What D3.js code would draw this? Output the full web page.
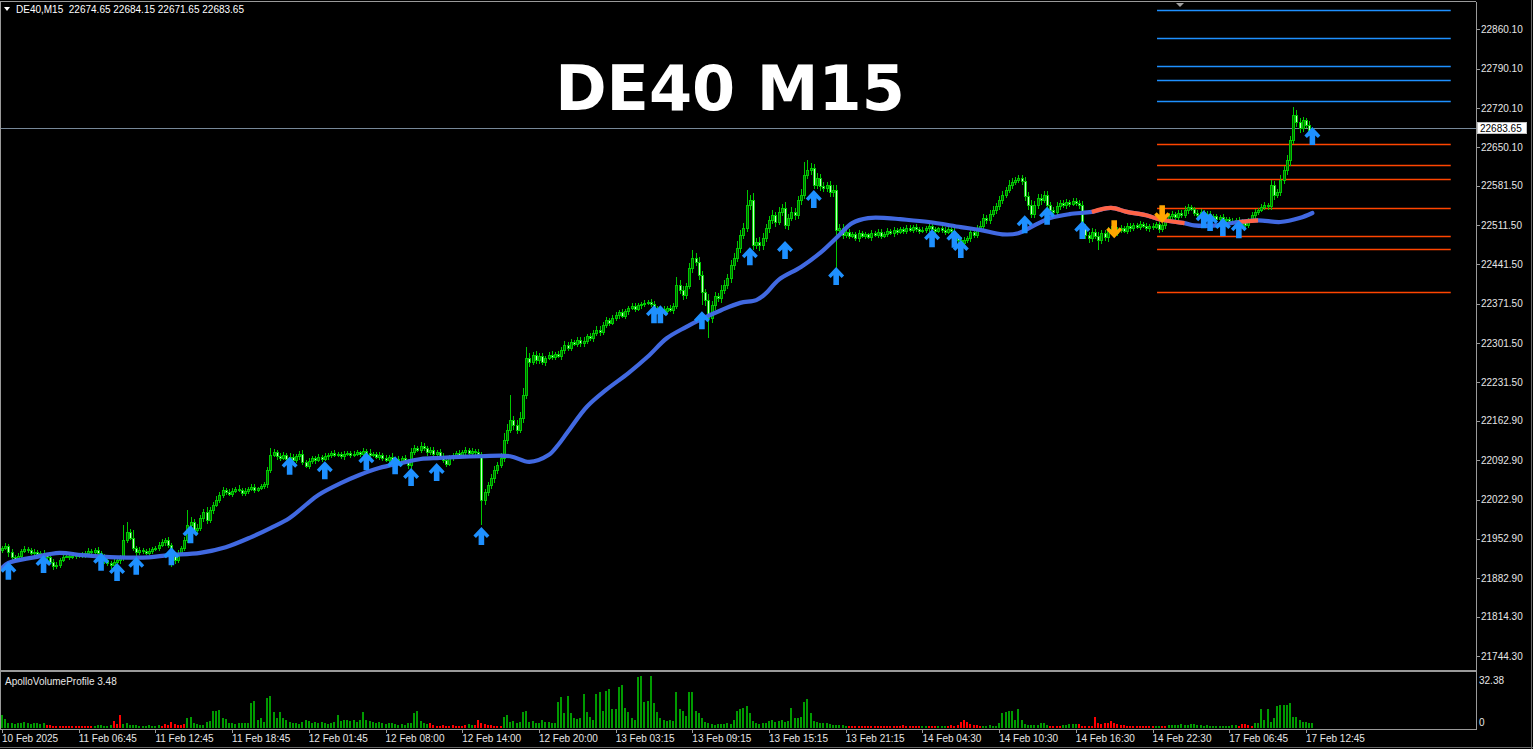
<!DOCTYPE html>
<html><head><meta charset="utf-8">
<script src="https://cdn.jsdelivr.net/npm/d3@7"></script>
<style>html,body{margin:0;padding:0;background:#000;overflow:hidden}</style>
</head><body><svg id="c" width="1533" height="749"></svg>
<script>
// ---------------- DATA ----------------
const symbol = "DE40,M15";
const titleText = "DE40 M15";
const indicatorName = "ApolloVolumeProfile 3.48";
const firstOpen = 21933;
const closes = [
21937,21940,21929,21921,21917,21922,21931,21935,21933,21928,21929,21926,21928,21924,21921,21912,21905,21906,21915,21921,21922,21921,21922,21924,
21922,21924,21928,21931,21929,21933,21928,21922,21915,21910,21906,21912,21915,21919,21951,21965,21954,21937,21929,21933,21931,21928,21931,21935,
21937,21942,21947,21951,21942,21924,21915,21928,21937,21951,21978,21983,21969,21972,21990,22001,21986,22004,22013,22022,22031,22040,22036,22033,
22038,22042,22040,22034,22038,22042,22045,22040,22043,22047,22050,22075,22102,22107,22100,22097,22102,22095,22099,22093,22100,22104,22090,22083,
22091,22097,22093,22099,22095,22100,22102,22106,22102,22104,22100,22104,22106,22102,22104,22107,22104,22109,22106,22102,22104,22099,22102,22097,
22093,22099,22090,22095,22091,22097,22090,22084,22107,22114,22111,22118,22114,22107,22111,22104,22107,22100,22093,22086,22097,22102,22106,22102,
22107,22111,22106,22109,22107,22104,22022,22036,22049,22061,22075,22084,22097,22129,22147,22164,22155,22147,22168,22209,22275,22268,22280,22271,
22278,22268,22275,22280,22277,22282,22278,22289,22298,22293,22303,22300,22307,22301,22305,22314,22310,22319,22325,22321,22334,22342,22337,22346,
22351,22357,22350,22358,22364,22367,22362,22369,22371,22373,22374,22371,22364,22360,22362,22358,22364,22360,22367,22405,22396,22387,22403,22435,
22453,22446,22423,22392,22378,22346,22369,22385,22382,22396,22405,22417,22440,22453,22471,22494,22506,22547,22556,22476,22481,22476,22488,22506,
22520,22529,22517,22535,22542,22511,22524,22535,22529,22556,22565,22600,22609,22613,22583,22595,22581,22577,22583,22570,22574,22503,22506,22494,
22499,22492,22495,22488,22497,22492,22495,22490,22497,22494,22499,22492,22495,22501,22497,22503,22499,22504,22501,22506,22503,22508,22504,22501,
22503,22506,22510,22504,22501,22506,22503,22499,22504,22501,22492,22485,22480,22485,22488,22499,22494,22506,22510,22524,22520,22531,22538,22545,
22556,22565,22574,22583,22588,22592,22595,22590,22563,22547,22531,22547,22560,22556,22565,22547,22538,22535,22545,22551,22547,22552,22549,22554,
22551,22547,22506,22494,22488,22499,22492,22485,22497,22490,22501,22504,22497,22503,22506,22501,22510,22506,22511,22508,22513,22510,22506,22510,
22508,22513,22504,22511,22520,22527,22531,22526,22533,22529,22538,22543,22540,22533,22529,22535,22527,22531,22524,22527,22522,22526,22520,22522,
22519,22517,22520,22513,22517,22511,22519,22529,22535,22538,22543,22547,22545,22583,22565,22570,22592,22609,22627,22663,22707,22695,22684,22698,
22690,22674.65,22683.65];
const wickHi = [
4,6,3,5,4,6,3,5,4,3,6,4,3,5,4,3,5,6,4,3,5,4,3,4,
3,5,4,6,3,4,5,3,4,5,3,6,4,5,27,18,6,15,4,5,3,4,5,3,
4,5,6,3,5,4,6,5,4,6,26,8,5,7,6,5,9,6,5,7,6,5,4,6,
5,4,6,3,5,4,6,5,3,4,5,6,12,5,4,6,5,4,6,5,4,5,7,4,
5,4,3,5,4,6,3,4,5,3,4,5,4,3,5,4,3,5,4,6,3,4,5,4,
5,4,6,3,5,4,6,5,8,6,5,7,6,4,5,6,4,5,6,4,5,4,3,5,
4,5,3,6,4,5,4,6,5,7,8,6,9,12,10,45,8,9,10,12,19,8,6,7,
5,6,4,5,7,4,6,5,7,6,5,4,6,5,7,4,6,5,7,6,5,6,4,6,
5,4,6,5,4,6,5,4,3,5,4,6,5,4,6,5,4,5,6,14,8,7,6,9,
14,8,9,7,6,10,8,7,6,9,8,7,10,9,12,8,10,27,9,12,8,10,9,8,
7,9,6,8,7,10,8,9,7,8,10,24,18,9,8,10,7,8,6,7,8,9,8,7,
5,6,4,5,6,4,5,3,6,4,5,6,4,5,3,6,4,5,4,6,5,4,5,4,
5,4,6,5,4,3,5,6,4,5,6,4,5,6,4,7,5,6,8,7,6,8,7,6,
8,7,6,9,7,5,5,6,8,7,9,8,7,6,8,7,6,5,7,6,5,6,4,5,
5,6,7,8,6,7,6,8,6,5,7,6,5,6,5,4,6,5,4,5,6,4,5,4,
5,4,6,5,7,6,5,4,6,5,7,6,5,4,5,6,4,5,6,4,5,4,5,4,
4,5,4,6,5,4,5,6,5,4,6,5,4,8,7,6,9,8,10,8,15,9,7,6,
5,7,0.5];
const wickLo = [
5,4,8,6,5,4,6,3,5,4,6,5,4,6,5,4,8,6,5,4,3,5,4,5,
4,3,5,4,6,3,5,4,6,5,7,5,4,6,5,6,4,5,6,4,5,3,4,5,
4,5,3,6,5,21,6,5,4,6,5,7,8,6,5,7,6,5,6,4,5,6,5,4,
5,4,3,5,4,6,4,5,3,4,5,6,5,4,6,5,4,6,5,4,5,6,5,4,
5,4,6,3,5,4,6,5,3,4,5,6,4,5,3,4,6,5,4,5,3,4,5,6,
4,5,3,6,4,5,4,6,9,5,4,6,5,7,4,5,6,4,5,6,4,5,6,4,
5,4,6,5,4,5,44,9,6,7,8,6,5,7,8,6,9,7,6,8,7,9,6,7,
6,5,7,4,6,5,4,6,7,5,6,4,5,7,6,5,4,6,5,7,6,5,6,4,
5,6,4,5,6,4,5,4,6,5,4,5,6,4,5,6,5,4,6,5,8,9,7,6,
8,7,9,23,10,36,9,8,7,9,8,7,9,8,7,9,8,7,8,9,7,10,8,7,
8,7,9,6,8,7,8,6,9,7,8,7,6,9,8,7,8,6,7,9,8,68,9,7,
5,6,4,5,6,4,5,3,6,4,5,6,4,5,4,6,5,4,5,6,4,5,4,5,
4,5,6,4,5,3,5,6,4,5,6,8,7,6,5,7,6,5,6,5,7,6,5,6,
6,7,5,6,7,5,6,7,8,9,7,6,7,8,6,7,6,5,7,6,5,6,5,4,
5,6,7,8,9,7,6,18,7,6,8,7,6,5,6,4,5,6,5,4,5,4,5,6,
5,4,6,5,6,5,4,6,5,4,5,6,4,5,6,5,4,5,6,4,5,6,4,5,
5,4,6,5,4,6,5,4,6,5,4,5,6,7,8,6,7,8,9,10,8,9,8,7,
6,5,3];
const volumes = [
7.6,5.5,2.7,2.7,2.5,3.0,2.8,3.7,3.0,2.5,3.2,2.7,2.6,2.9,1.8,1.5,1.3,1.2,1.0,1.2,1.1,1.3,1.2,1.1,
1.2,1.3,1.1,1.2,1.4,1.0,1.5,1.8,1.2,1.4,1.6,4.3,2.5,7.7,2.3,3.0,2.0,1.5,1.8,1.2,1.4,1.2,1.5,1.3,
1.4,1.6,1.3,2.2,1.8,3.7,2.5,1.9,2.0,2.4,5.9,6.7,2.8,2.2,1.6,2.0,3.7,4.0,10.0,10.0,10.8,5.9,5.5,3.0,
2.7,2.6,2.8,3.0,2.7,3.1,14.5,15.9,4.5,5.9,3.5,17.8,18.8,9.6,6.0,9.6,5.9,4.6,3.7,3.0,2.7,2.5,3.5,4.6,
4.0,3.0,3.7,2.7,3.7,3.0,2.5,3.2,3.8,7.6,4.0,4.6,4.6,4.0,4.6,3.7,5.0,9.6,5.0,4.0,3.7,3.0,3.5,2.7,
2.5,3.0,2.7,2.2,2.0,2.5,2.0,2.7,3.0,9.0,10.3,4.2,3.0,2.2,3.0,1.5,1.2,1.3,1.5,1.3,1.2,1.6,1.4,1.2,
1.0,1.5,2.2,1.6,2.0,4.6,3.2,2.2,1.8,1.5,1.2,1.4,1.0,6.7,7.6,3.7,4.0,3.0,3.7,9.6,10.3,3.7,4.0,3.2,
3.0,4.6,3.7,3.7,3.2,2.7,15.5,18.5,8.8,18.8,8.8,5.9,5.5,6.0,19.8,9.6,6.7,5.0,20.3,21.2,10.0,22.0,23.0,11.0,
11.4,24.3,25.5,11.8,9.6,5.9,5.0,29.8,30.6,15.5,16.0,30.6,14.5,9.6,6.0,5.0,4.2,4.6,4.0,21.2,11.0,10.0,7.0,21.2,
21.2,9.9,9.0,5.9,3.5,3.0,2.5,2.0,2.5,2.5,2.5,2.7,2.5,4.6,10.0,11.0,11.8,12.8,8.8,4.0,3.0,2.5,2.7,3.0,
4.0,4.6,3.7,4.0,4.6,3.7,4.0,11.8,5.9,6.0,6.3,15.2,17.0,8.8,4.0,3.5,3.0,3.0,2.7,2.2,2.0,2.0,1.8,1.5,
1.3,1.1,1.0,1.2,1.1,1.0,1.2,1.1,1.3,1.2,1.0,1.1,1.2,1.4,1.3,1.2,1.4,1.3,1.5,1.4,1.3,1.2,1.4,1.3,
1.2,1.0,1.1,1.3,1.2,1.0,1.1,1.2,1.3,1.5,1.4,1.8,3.7,5.0,3.7,2.5,2.0,1.5,1.3,1.2,1.3,1.5,1.4,1.2,
2.7,8.8,9.6,10.3,10.3,5.0,11.0,4.6,2.5,1.5,1.8,2.0,2.0,2.7,3.1,2.0,1.2,1.0,1.0,1.2,1.5,2.0,2.5,2.5,
2.2,2.5,1.3,1.2,1.4,1.0,6.3,3.0,2.5,2.7,2.7,4.0,2.7,2.5,2.0,1.5,1.2,1.2,1.0,1.3,1.2,1.0,1.1,1.0,
1.0,1.2,1.0,1.2,1.4,1.5,1.8,1.7,2.0,2.1,2.0,1.8,2.2,2.5,1.8,1.6,1.4,1.5,1.2,1.3,1.1,1.3,1.2,1.4,
1.3,1.5,1.6,1.2,2.5,2.3,1.5,1.2,3.0,3.1,11.0,5.0,11.0,3.7,5.9,12.8,13.7,13.7,13.7,14.5,6.7,6.3,4.6,3.7,
3.7,3.0,3.0];
const volumeMax = 32.38;
const volumeRedRanges = [[14,28],[35,37],[50,57],[134,145],[148,156],[265,287],[290,292],[296,306],[328,331],[337,360],[363,364],[387,391]];
const maBars = [0,2,10,18,25,36,46,52,62,70,78,84,90,96,99,106,112,118,125,131,137,143,150,159,165,171,174,177,183,189,196,202,208,214,218,225,231,236,239,243,250,256,262,266,271,277,281,290,300,306,313,318,323,328,334,341,347,352,358,362,370,373,380,387,393,400,406,410];
const maValues = [21901,21910,21920,21928,21924,21920,21920,21924,21928,21938,21956,21972,21990,22018,22031,22052,22067,22079,22088,22095,22097,22099,22100,22100,22090,22102,22120,22143,22188,22218,22248,22277,22310,22330,22342,22360,22373,22378,22390,22414,22437,22462,22494,22515,22524,22524,22522,22517,22508,22503,22495,22497,22511,22524,22531,22535,22542,22535,22529,22522,22515,22511,22511,22517,22520,22517,22524,22533];
const maRedRanges = [[341,370],[387,393]];
const upArrowBars = [2,13,31,36,42,53,59,90,101,114,123,128,136,150,204,206,219,234,245,254,261,291,298,300,320,327,338,376,378,382,387,410];
const upArrowPrices = [21912,21924,21928,21910,21921,21938,21977,22099,22091,22107,22100,22079,22088,21974,22369,22369,22358,22472,22483,22574,22437,22504,22503,22485,22529,22544,22519,22538,22533,22524,22520,22686];
const downArrowBars = [348,363];
const downArrowPrices = [22488,22515];
const blueLevels = [22894.5,22844.1,22794.8,22769.3,22732.5];
const orangeLevels = [22656.0,22618.5,22593.6,22542.0,22492.1,22469.0,22392.4];
const levelFromBar = 361.4, levelToBar = 453.3;
const priceTicks = [22860.10,22790.10,22720.10,22650.10,22581.50,22511.50,22441.50,22371.50,22301.50,22231.50,22162.90,22092.90,22022.90,21952.90,21882.90,21814.30,21744.30];
const timeLabels = ["10 Feb 2025","11 Feb 06:45","11 Feb 12:45","11 Feb 18:45","12 Feb 01:45","12 Feb 08:00","12 Feb 14:00","12 Feb 20:00","13 Feb 03:15","13 Feb 09:15","13 Feb 15:15","13 Feb 21:15","14 Feb 04:30","14 Feb 10:30","14 Feb 16:30","14 Feb 22:30","17 Feb 06:45","17 Feb 12:45"];
const timeLabelStep = 24;

// ---------------- LAYOUT ----------------
const W = 1533, H = 749;
const mainTop = 2, mainBottom = 670, axisX = 1476;
const volTop = 672, volBottom = 729;
const FONT = "'Liberation Sans', Arial, sans-serif";
const TXT = "#e6e6e6", FRAME = "#9a9a9a";
const wickCol = "#00c800", bullFill = "#006c00", bearFill = "#c4ffc4";

const svg = d3.select("#c");
svg.append("rect").attr("width", W).attr("height", H).attr("fill", "#000");

const x = d3.scaleLinear().domain([0, 410]).range([2, 2 + 410 * 3.196]);
const y = d3.scaleLinear().domain([21719.4, 22908.7]).range([mainBottom, mainTop]);
const vy = d3.scaleLinear().domain([0, volumeMax]).range([728, 673]);

const defs = svg.append("defs");
defs.append("clipPath").attr("id", "clipMain").append("rect")
  .attr("x", 1).attr("y", mainTop).attr("width", axisX - 1).attr("height", mainBottom - mainTop);
defs.append("clipPath").attr("id", "clipVol").append("rect")
  .attr("x", 1).attr("y", volTop).attr("width", axisX - 1).attr("height", volBottom - volTop);

const bars = closes.map((c, i) => {
  const o = i === 0 ? firstOpen : closes[i - 1];
  return { i, o, c, h: Math.max(o, c) + wickHi[i], l: Math.min(o, c) - wickLo[i] };
});

const gMain = svg.append("g").attr("clip-path", "url(#clipMain)");

// title
svg.append("text").attr("x", 730).attr("y", 110).attr("text-anchor", "middle")
  .attr("font-family", "'DejaVu Sans', sans-serif").attr("font-weight", "bold")
  .attr("font-size", 62).attr("fill", "#fff").text(titleText);

// current price line
const lastBar = bars[bars.length - 1];
gMain.append("line").attr("x1", 0).attr("x2", axisX)
  .attr("y1", Math.round(y(lastBar.c)) + 0.5).attr("y2", Math.round(y(lastBar.c)) + 0.5)
  .attr("stroke", "#778899").attr("stroke-width", 1).attr("shape-rendering", "crispEdges");

// level lines
const levels = blueLevels.map(v => ({ v, col: "#1e90ff" })).concat(orangeLevels.map(v => ({ v, col: "#ff4500" })));
gMain.selectAll("line.lvl").data(levels).join("line").attr("class", "lvl")
  .attr("x1", x(levelFromBar)).attr("x2", x(levelToBar))
  .attr("y1", d => Math.round(y(d.v)) + 0.5).attr("y2", d => Math.round(y(d.v)) + 0.5)
  .attr("stroke", d => d.col).attr("stroke-width", 1.3);

// candles
const cg = gMain.append("g").attr("shape-rendering", "crispEdges");
cg.selectAll("line.wick").data(bars).join("line").attr("class", "wick")
  .attr("x1", d => Math.round(x(d.i)) + 0.5).attr("x2", d => Math.round(x(d.i)) + 0.5)
  .attr("y1", d => Math.round(y(d.h))).attr("y2", d => Math.round(y(d.l)))
  .attr("stroke", wickCol).attr("stroke-width", 1);
cg.selectAll("rect.body").data(bars).join("rect").attr("class", "body")
  .attr("x", d => Math.round(x(d.i)) - 0.5)
  .attr("y", d => Math.round(y(Math.max(d.o, d.c))) + 0.5)
  .attr("width", 2)
  .attr("height", d => Math.max(0, Math.round(y(Math.min(d.o, d.c))) - Math.round(y(Math.max(d.o, d.c)))))
  .attr("fill", d => d.c >= d.o ? bullFill : bearFill)
  .attr("stroke", wickCol).attr("stroke-width", 1);

// moving average
const maPts = maBars.map((b, k) => [b, maValues[k]]);
const maLine = d3.line().x(d => x(d[0])).y(d => y(d[1])).curve(d3.curveCatmullRom.alpha(0.5));
gMain.append("path").attr("d", maLine(maPts)).attr("fill", "none")
  .attr("stroke", "#4169e1").attr("stroke-width", 4.2).attr("stroke-linecap", "round").attr("stroke-linejoin", "round");
maRedRanges.forEach(([a, b]) => {
  const seg = maPts.filter(p => p[0] >= a && p[0] <= b);
  gMain.append("path").attr("d", maLine(seg)).attr("fill", "none")
    .attr("stroke", "#ff6347").attr("stroke-width", 4.2).attr("stroke-linecap", "butt");
});

// arrows
const upPath = "M0,0 L8,8.5 L5.5,11 L2.8,8.3 L2.8,18 L-2.8,18 L-2.8,8.3 L-5.5,11 L-8,8.5 Z";
gMain.selectAll("path.up").data(upArrowBars.map((b, k) => [b, upArrowPrices[k]])).join("path").attr("class", "up")
  .attr("d", upPath).attr("fill", "#1e90ff")
  .attr("transform", d => `translate(${x(d[0])},${y(d[1])})`);
gMain.selectAll("path.dn").data(downArrowBars.map((b, k) => [b, downArrowPrices[k]])).join("path").attr("class", "dn")
  .attr("d", upPath).attr("fill", "#ffa500")
  .attr("transform", d => `translate(${x(d[0])},${y(d[1])}) scale(1,-1)`);

// chart shift marker
svg.append("path").attr("d", "M1176,3 L1184,3 L1180,7 Z").attr("fill", "#a0a0a0");

// volume bars
const isRed = i => volumeRedRanges.some(([a, b]) => i >= a && i <= b);
svg.append("g").attr("clip-path", "url(#clipVol)").attr("shape-rendering", "crispEdges")
  .selectAll("rect").data(volumes.map((v, i) => ({ v, i }))).join("rect")
  .attr("x", d => Math.round(x(d.i)) - 1).attr("width", 2)
  .attr("y", d => Math.round(vy(d.v))).attr("height", d => 728 - Math.round(vy(d.v)))
  .attr("fill", d => isRed(d.i) ? "#ff0000" : "#009a00");

// frame
const fr = svg.append("g").attr("stroke", FRAME).attr("shape-rendering", "crispEdges").attr("fill", "none");
fr.append("line").attr("x1", 0).attr("x2", axisX).attr("y1", 1.5).attr("y2", 1.5);
fr.append("line").attr("x1", 0.5).attr("x2", 0.5).attr("y1", 1.5).attr("y2", volBottom);
fr.append("line").attr("x1", axisX + 0.5).attr("x2", axisX + 0.5).attr("y1", 1.5).attr("y2", volBottom + 0.5);
fr.append("line").attr("x1", 0).attr("x2", axisX).attr("y1", 671).attr("y2", 671).attr("stroke-width", 2);
fr.append("line").attr("x1", 0).attr("x2", axisX + 1).attr("y1", volBottom + 0.5).attr("y2", volBottom + 0.5);
fr.append("line").attr("x1", 0).attr("x2", W).attr("y1", H - 1.5).attr("y2", H - 1.5).attr("stroke", "#6a6a6a");
fr.append("line").attr("x1", W - 1.5).attr("x2", W - 1.5).attr("y1", 0).attr("y2", H).attr("stroke", "#6a6a6a");

// price axis
const pa = svg.append("g");
pa.selectAll("line").data(priceTicks).join("line")
  .attr("x1", axisX).attr("x2", axisX + 4)
  .attr("y1", d => Math.round(y(d)) + 0.5).attr("y2", d => Math.round(y(d)) + 0.5)
  .attr("stroke", FRAME).attr("shape-rendering", "crispEdges");
pa.selectAll("text").data(priceTicks).join("text")
  .attr("x", axisX + 5).attr("y", d => y(d) + 3.6)
  .attr("font-family", FONT).attr("font-size", 10).attr("fill", TXT)
  .text(d => d.toFixed(2));

// last price label
svg.append("rect").attr("x", axisX + 1.5).attr("y", Math.round(y(lastBar.c)) - 5.5)
  .attr("width", 49).attr("height", 11).attr("fill", "#fff").attr("stroke", "#c0c0c0").attr("shape-rendering", "crispEdges");
svg.append("text").attr("x", axisX + 4).attr("y", y(lastBar.c) + 3.6)
  .attr("font-family", FONT).attr("font-size", 10).attr("fill", "#000").text(lastBar.c.toFixed(2));

// volume axis labels
svg.append("text").attr("x", axisX + 3).attr("y", vy(volumeMax) + 11)
  .attr("font-family", FONT).attr("font-size", 10).attr("fill", TXT).text(volumeMax.toFixed(2));
svg.append("text").attr("x", axisX + 3).attr("y", vy(0) - 2)
  .attr("font-family", FONT).attr("font-size", 10).attr("fill", TXT).text("0");
svg.append("text").attr("x", 5).attr("y", 685)
  .attr("font-family", FONT).attr("font-size", 10).attr("fill", TXT).text(indicatorName);

// time axis
const ta = svg.append("g");
ta.selectAll("line").data(timeLabels).join("line")
  .attr("x1", (d, k) => Math.round(x(k * timeLabelStep)) + 0.5).attr("x2", (d, k) => Math.round(x(k * timeLabelStep)) + 0.5)
  .attr("y1", volBottom).attr("y2", volBottom + 4)
  .attr("stroke", FRAME).attr("shape-rendering", "crispEdges");
ta.selectAll("text").data(timeLabels).join("text")
  .attr("x", (d, k) => x(k * timeLabelStep)).attr("y", 742)
  .attr("font-family", FONT).attr("font-size", 10).attr("fill", TXT).text(d => d);

// header
svg.append("path").attr("d", "M4,7 L10,7 L7,11 Z").attr("fill", "#fff");
const fmt = v => v.toFixed(2);
svg.append("text").attr("x", 16).attr("y", 13).style("white-space", "pre")
  .attr("font-family", FONT).attr("font-size", 10).attr("fill", "#fff")
  .text(`${symbol}  ${fmt(lastBar.o)} ${fmt(lastBar.h)} ${fmt(lastBar.l)} ${fmt(lastBar.c)}`);
</script>
</body></html>
